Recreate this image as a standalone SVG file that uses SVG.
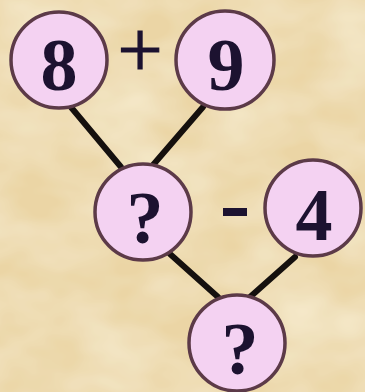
<svg xmlns="http://www.w3.org/2000/svg" width="365" height="392" viewBox="0 0 365 392">
<defs>
<filter id="tex" x="0" y="0" width="100%" height="100%">
<feTurbulence type="fractalNoise" baseFrequency="0.012 0.02" numOctaves="3" seed="4" result="n"/>
<feColorMatrix in="n" type="matrix" values="0 0 0 0 0.93  0 0 0 0 0.85  0 0 0 0 0.66  0 0 0 -1.4 1.0" result="c"/>
<feComposite in="c" in2="SourceGraphic" operator="over"/>
</filter>
</defs>
<style>
.node circle{fill:#f4d2f2;stroke:#5c3a48;stroke-width:3.5}
.node text{font-family:"Liberation Serif","Times New Roman",serif;font-weight:bold;font-size:74px;fill:#1c1230;text-anchor:middle}
.op{font-family:"Liberation Serif","Times New Roman",serif;fill:#1c1230;stroke:#1c1230;stroke-width:1.2;text-anchor:middle}
#connectors line{stroke:#15100e;stroke-width:6;stroke-linecap:round}
</style>
<rect width="365" height="392" fill="#f5e2b6"/>
<rect width="365" height="392" fill="#e9d3a2" filter="url(#tex)" opacity="0.8"/>
<g id="connectors">
<line x1="70" y1="106" x2="121" y2="167"/>
<line x1="203" y1="107" x2="153" y2="165"/>
<line x1="170" y1="254" x2="218" y2="297"/>
<line x1="295" y1="257" x2="250" y2="297"/>
</g>
<g id="node-8" class="node"><circle cx="59" cy="60" r="48"/><text x="59" y="90">8</text></g>
<g id="node-9" class="node"><circle cx="225" cy="60" r="49"/><text x="226" y="90">9</text></g>
<g id="node-q1" class="node"><circle cx="143" cy="212" r="48"/><text x="145" y="243">?</text></g>
<g id="node-4" class="node"><circle cx="313" cy="208" r="48"/><text x="314" y="240">4</text></g>
<g id="node-q2" class="node"><circle cx="237" cy="343" r="48"/><text x="240" y="374">?</text></g>
<text class="op" x="140" y="77" font-size="80">+</text>
<rect x="223" y="208" width="24" height="8" fill="#1c1230"/>
</svg>
